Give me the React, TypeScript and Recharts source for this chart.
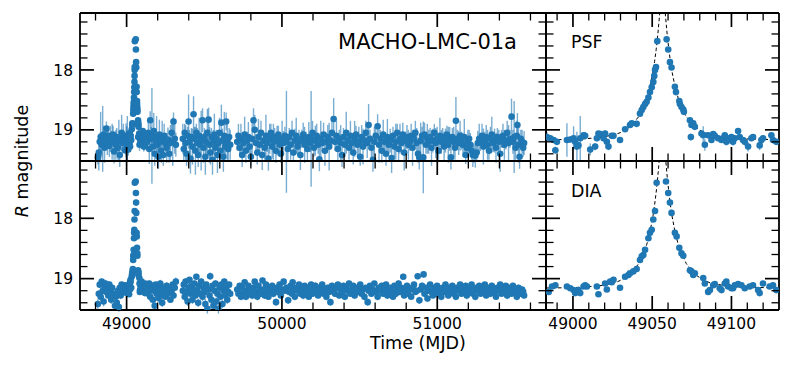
import { ScatterChart, Scatter, XAxis, YAxis, ErrorBar } from 'recharts';

const BLUE = '#1f77b4';
const FONT = '"DejaVu Sans", Verdana, sans-serif';

// tick positions (minor + major mixed; majors get the long tick and the label)
const longTicks = [48800, 49000, 49200, 49400, 49600, 49800, 50000, 50200, 50400, 50600, 50800, 51000, 51200, 51400, 51600];
const zoomTicks = [48990, 49000, 49010, 49020, 49030, 49040, 49050, 49060, 49070, 49080, 49090, 49100, 49110, 49120];
const magTicks = [17.2, 17.4, 17.6, 17.8, 18, 18.2, 18.4, 18.6, 18.8, 19, 19.2, 19.4];

// [MJD, mag, err] outside the event, PSF photometry
const psfBaseline = [
  [48815, 19.46, 0.12], [48821, 19.38, 0.3], [48827, 19.2, 0.15], [48833, 19.12, 0.42], [48840, 19.25, 0.2],
  [48846, 19.15, 0.55], [48852, 19.08, 0.15], [48858, 19.3, 0.25], [48864, 19.18, 0.1], [48870, 18.98, 0.12],
  [48876, 19.22, 0.2], [48882, 19.1, 0.15], [48889, 19.27, 0.18], [48895, 19.15, 0.22], [48901, 19.12, 0.1],
  [48907, 19.2, 0.3], [48913, 19.08, 0.15], [48919, 19.36, 0.2], [48925, 19.18, 0.12], [48931, 19.25, 0.25],
  [48937, 19.12, 0.15], [48944, 19.3, 0.2], [48950, 19.18, 0.35], [48956, 19.42, 0.2], [48962, 19.15, 0.12],
  [48968, 19.05, 0.3], [48974, 19.22, 0.15], [48979, 19.1, 0.2],
  [49134, 19.2, 0.15], [49140, 19.05, 0.2], [49146, 19.32, 0.25], [49152, 18.84, 0.15], [49158, 19.15, 0.2],
  [49163, 19.1, 0.8], [49169, 19.28, 0.15], [49175, 19.02, 0.3], [49181, 19.4, 0.2], [49187, 19.18, 0.15],
  [49193, 19.12, 0.35], [49199, 19.25, 0.12], [49205, 19.45, 0.2], [49211, 19.08, 0.25], [49217, 19.2, 0.15],
  [49223, 19.35, 0.2], [49229, 19.15, 0.3], [49236, 19.42, 0.18], [49242, 19.1, 0.2], [49250, 19.22, 0.15],
  [49258, 19.3, 0.25], [49266, 19.16, 0.2], [49274, 19.4, 0.15], [49282, 19.22, 0.3], [49290, 19.05, 0.2],
  [49297, 19.2, 0.4], [49302, 18.86, 0.15], [49310, 19.15, 0.25], [49317, 19.25, 0.2],
  [49362, 19.15, 0.25], [49368, 19.32, 0.2], [49374, 19.05, 0.15], [49380, 19.22, 0.3], [49386, 19.4, 0.2],
  [49393, 19.1, 0.15], [49399, 18.86, 0.45], [49405, 19.2, 0.2], [49411, 19.48, 0.25], [49417, 19.12, 0.15],
  [49424, 19.28, 0.3], [49431, 18.74, 0.3], [49437, 19.15, 0.2], [49443, 19.35, 0.4], [49449, 19.05, 0.15],
  [49455, 19.22, 0.25], [49461, 19.42, 0.2], [49467, 19.1, 0.3], [49473, 19.25, 0.15], [49480, 19.18, 0.5],
  [49489, 18.84, 0.2], [49495, 19.3, 0.25], [49501, 19.12, 0.15], [49507, 19.45, 0.3], [49513, 19.2, 0.2],
  [49520, 19.05, 0.4], [49528, 18.83, 0.2], [49534, 19.25, 0.3], [49540, 19.38, 0.2], [49546, 19.12, 0.15],
  [49553, 19.5, 0.25], [49559, 19.2, 0.2], [49565, 19.08, 0.35], [49572, 19.3, 0.2], [49578, 19.15, 0.15],
  [49585, 19.42, 0.3], [49591, 19.22, 0.2], [49598, 19.05, 0.25], [49604, 19.35, 0.15], [49610, 18.88, 0.3],
  [49617, 19.18, 0.2], [49623, 19.45, 0.25], [49629, 19.1, 0.4], [49635, 19.28, 0.2], [49641, 18.86, 0.15],
  [49648, 19.2, 0.3], [49654, 19.32, 0.2], [49660, 19.12, 0.15], [49667, 19.25, 0.25],
  [49712, 19.2, 0.15], [49720, 19.1, 0.2], [49728, 19.3, 0.12], [49736, 19.15, 0.25], [49744, 19.42, 0.2],
  [49752, 19.22, 0.15], [49760, 19.08, 0.3], [49768, 19.35, 0.2], [49776, 19.18, 0.15], [49784, 19.12, 0.25],
  [49792, 19.28, 0.2], [49800, 19.45, 0.15], [49808, 19.15, 0.3], [49817, 18.84, 0.2], [49825, 19.0, 0.25],
  [49833, 19.22, 0.15], [49841, 19.38, 0.2], [49849, 19.12, 0.3], [49857, 19.25, 0.15], [49865, 19.05, 0.2],
  [49873, 19.42, 0.25], [49881, 19.18, 0.15], [49889, 19.3, 0.2], [49897, 19.1, 0.35], [49905, 19.22, 0.15],
  [49913, 19.48, 0.2], [49921, 19.15, 0.25], [49929, 19.05, 0.15], [49937, 19.28, 0.2], [49945, 19.2, 0.3],
  [49953, 19.12, 0.15], [49961, 19.35, 0.2], [49969, 19.18, 0.25], [49977, 19.08, 0.15], [49985, 19.25, 0.2],
  [49993, 19.4, 0.15], [50001, 19.15, 0.3], [50010, 19.22, 0.2], [50019, 19.1, 0.15], [50029, 19.2, 0.85],
  [50038, 19.32, 0.2], [50047, 19.12, 0.15], [50056, 19.25, 0.25], [50065, 19.05, 0.2], [50074, 19.38, 0.15],
  [50083, 19.18, 0.2], [50092, 19.1, 0.3], [50101, 19.28, 0.15], [50110, 19.2, 0.2], [50119, 19.42, 0.25],
  [50128, 19.15, 0.15], [50137, 19.08, 0.2], [50146, 19.25, 0.3], [50155, 19.18, 0.15], [50164, 19.32, 0.2],
  [50173, 19.12, 0.25], [50182, 19.22, 0.15], [50188, 19.15, 0.8], [50197, 19.05, 0.2], [50206, 19.3, 0.15],
  [50215, 19.18, 0.25], [50224, 19.1, 0.2], [50233, 19.25, 0.15], [50241, 19.49, 0.2], [50250, 19.15, 0.3],
  [50259, 19.22, 0.15], [50268, 19.08, 0.2], [50277, 19.35, 0.25], [50286, 19.2, 0.15], [50295, 19.12, 0.2],
  [50304, 19.28, 0.4], [50313, 19.18, 0.15], [50322, 19.05, 0.2], [50333, 18.82, 0.35], [50342, 19.2, 0.15],
  [50351, 19.1, 0.25], [50360, 19.32, 0.2], [50369, 19.15, 0.15], [50378, 19.22, 0.3], [50387, 19.42, 0.2],
  [50396, 19.12, 0.15], [50405, 19.25, 0.2], [50414, 19.05, 0.35], [50423, 19.18, 0.15], [50432, 19.3, 0.2],
  [50441, 19.1, 0.25], [50450, 19.22, 0.15], [50459, 19.38, 0.2], [50468, 19.15, 0.3], [50477, 19.08, 0.15],
  [50486, 19.25, 0.2], [50495, 19.2, 0.25], [50504, 19.45, 0.15], [50513, 19.12, 0.2], [50522, 19.28, 0.3],
  [50531, 19.18, 0.15], [50540, 19.05, 0.2], [50549, 19.22, 0.25], [50558, 18.92, 0.35], [50567, 19.15, 0.15],
  [50576, 19.3, 0.2], [50586, 19.5, 0.2], [50595, 19.2, 0.25], [50604, 19.1, 0.15], [50616, 18.94, 0.2],
  [50625, 19.25, 0.3], [50634, 19.15, 0.15], [50643, 19.35, 0.2], [50652, 19.08, 0.25], [50661, 19.2, 0.15],
  [50670, 19.4, 0.2], [50679, 19.12, 0.3], [50688, 19.25, 0.15], [50697, 19.18, 0.2], [50706, 19.47, 0.25],
  [50715, 19.1, 0.15], [50724, 19.28, 0.2], [50733, 19.2, 0.3], [50742, 19.05, 0.15], [50751, 19.32, 0.2],
  [50760, 19.15, 0.25], [50769, 19.22, 0.15], [50778, 19.08, 0.2], [50787, 19.38, 0.3], [50796, 19.18, 0.15],
  [50805, 19.12, 0.2], [50814, 19.25, 0.25], [50823, 19.2, 0.15], [50832, 19.1, 0.2], [50841, 19.3, 0.3],
  [50850, 19.15, 0.15], [50859, 19.05, 0.2], [50868, 19.22, 0.25], [50876, 19.4, 0.15], [50884, 19.46, 0.2],
  [50893, 19.18, 0.3], [50902, 19.1, 0.15], [50910, 19.46, 0.6], [50918, 19.08, 0.2], [50927, 19.25, 0.15],
  [50936, 19.15, 0.25], [50945, 19.2, 0.2], [50954, 19.12, 0.15], [50963, 19.3, 0.3], [50972, 19.18, 0.2],
  [50981, 19.05, 0.15], [50990, 19.22, 0.25], [50999, 19.15, 0.2], [51008, 19.35, 0.15], [51017, 19.1, 0.3],
  [51026, 19.2, 0.2], [51035, 19.12, 0.15], [51044, 19.28, 0.25], [51053, 19.18, 0.2], [51062, 19.08, 0.15],
  [51071, 19.25, 0.3], [51080, 19.15, 0.2], [51088, 19.46, 0.2], [51097, 19.12, 0.15], [51106, 19.2, 0.25],
  [51114, 19.3, 0.2], [51120, 18.85, 0.4], [51129, 19.15, 0.15], [51138, 19.22, 0.2], [51147, 19.1, 0.25],
  [51156, 19.18, 0.15], [51165, 19.25, 0.2], [51174, 19.12, 0.3], [51183, 19.42, 0.15], [51190, 19.3, 0.15],
  [51197, 19.2, 0.2], [51205, 19.15, 0.15], [51213, 19.25, 0.2], [51221, 19.35, 0.15], [51229, 19.42, 0.2],
  [51237, 19.4, 0.15], [51245, 19.43, 0.2], [51253, 19.38, 0.15], [51261, 19.22, 0.2], [51270, 19.15, 0.25],
  [51279, 19.2, 0.15], [51288, 19.1, 0.2], [51297, 19.28, 0.3], [51306, 19.18, 0.15], [51315, 19.12, 0.2],
  [51324, 19.25, 0.25], [51333, 19.35, 0.15], [51342, 19.15, 0.2], [51351, 19.08, 0.3], [51360, 19.22, 0.15],
  [51369, 19.18, 0.2], [51378, 19.3, 0.25], [51387, 19.12, 0.15], [51396, 19.2, 0.2], [51405, 19.4, 0.3],
  [51414, 19.15, 0.15], [51423, 19.1, 0.2], [51432, 19.25, 0.25], [51441, 19.18, 0.15], [51450, 19.05, 0.2],
  [51459, 19.22, 0.3], [51468, 19.15, 0.15], [51478, 18.78, 0.3], [51487, 19.2, 0.2], [51495, 19.12, 0.6],
  [51504, 19.3, 0.2], [51512, 19.1, 0.25], [51516, 18.92, 0.2], [51523, 19.25, 0.3], [51530, 19.45, 0.2],
  [51538, 19.15, 0.15], [51546, 19.2, 0.2], [51553, 19.3, 0.15], [51559, 19.22, 0.2],
];

// [MJD, mag, err] outside the event, DIA photometry
const diaBaseline = [
  [48815, 19.42, 0.08], [48821, 19.25, 0.06], [48827, 19.1, 0.05], [48833, 19.3, 0.07], [48840, 19.05, 0.05],
  [48846, 19.2, 0.06], [48852, 19.38, 0.08], [48858, 19.12, 0.05], [48864, 19.08, 0.06], [48870, 19.22, 0.05],
  [48876, 19.15, 0.07], [48882, 19.28, 0.05], [48889, 19.1, 0.06], [48895, 19.2, 0.05], [48901, 19.35, 0.07],
  [48907, 19.15, 0.05], [48913, 19.25, 0.06], [48925, 19.45, 0.08], [48931, 19.3, 0.06], [48937, 19.4, 0.07],
  [48944, 19.2, 0.05], [48950, 19.47, 0.08], [48956, 19.15, 0.05], [48962, 19.28, 0.06], [48968, 19.1, 0.05],
  [48974, 19.22, 0.06], [48979, 19.15, 0.05],
  [49134, 19.15, 0.05], [49140, 19.25, 0.06], [49146, 19.08, 0.05], [49152, 19.3, 0.07], [49158, 19.18, 0.05],
  [49163, 19.12, 0.06], [49169, 19.35, 0.05], [49175, 19.2, 0.06], [49181, 19.45, 0.07], [49187, 19.1, 0.05],
  [49193, 19.25, 0.06], [49199, 19.15, 0.05], [49205, 19.32, 0.07], [49211, 19.2, 0.05], [49217, 19.08, 0.06],
  [49223, 19.28, 0.05], [49229, 19.4, 0.07], [49236, 19.15, 0.05], [49242, 19.22, 0.06], [49250, 19.3, 0.05],
  [49258, 19.12, 0.06], [49266, 19.25, 0.05], [49274, 19.18, 0.07], [49282, 19.35, 0.05], [49290, 19.2, 0.06],
  [49297, 19.1, 0.05], [49302, 19.28, 0.06], [49310, 19.15, 0.05], [49317, 19.05, 0.07],
  [49362, 19.2, 0.06], [49368, 19.1, 0.05], [49374, 19.3, 0.07], [49380, 19.05, 0.06], [49386, 19.22, 0.05],
  [49393, 19.38, 0.07], [49399, 19.15, 0.06], [49405, 19.02, 0.05], [49411, 19.25, 0.06], [49417, 19.12, 0.05],
  [49424, 19.35, 0.07], [49431, 19.18, 0.06], [49437, 19.08, 0.05], [49443, 19.28, 0.06], [49449, 18.97, 0.05],
  [49455, 19.2, 0.06], [49461, 19.4, 0.07], [49467, 19.12, 0.05], [49473, 19.25, 0.06], [49480, 19.05, 0.05],
  [49489, 19.3, 0.07], [49495, 19.15, 0.06], [49501, 19.22, 0.05], [49507, 19.42, 0.08], [49513, 19.1, 0.05],
  [49520, 19.5, 0.08], [49528, 19.18, 0.06], [49534, 19.28, 0.05], [49538, 18.96, 0.06], [49546, 19.35, 0.07],
  [49553, 19.12, 0.05], [49559, 19.45, 0.08], [49565, 19.2, 0.06], [49572, 19.08, 0.05], [49578, 19.38, 0.07],
  [49585, 19.25, 0.06], [49591, 19.5, 0.08], [49598, 19.15, 0.05], [49604, 19.3, 0.06], [49610, 19.1, 0.05],
  [49617, 19.42, 0.07], [49623, 19.2, 0.06], [49629, 19.05, 0.05], [49635, 19.28, 0.06], [49641, 19.15, 0.05],
  [49648, 19.35, 0.07], [49654, 19.22, 0.06], [49660, 19.1, 0.05], [49667, 19.25, 0.06],
  [49712, 19.18, 0.05], [49720, 19.25, 0.04], [49728, 19.12, 0.05], [49736, 19.3, 0.06], [49744, 19.15, 0.04],
  [49752, 19.22, 0.05], [49760, 19.06, 0.05], [49768, 19.3, 0.06], [49776, 19.2, 0.04], [49784, 19.12, 0.05],
  [49792, 19.25, 0.05], [49800, 19.18, 0.04], [49808, 19.28, 0.06], [49817, 19.15, 0.05], [49825, 19.05, 0.05],
  [49833, 19.22, 0.04], [49841, 19.3, 0.06], [49849, 19.12, 0.05], [49857, 19.2, 0.04], [49865, 19.25, 0.05],
  [49875, 19.03, 0.05], [49881, 19.18, 0.04], [49889, 19.28, 0.06], [49897, 19.1, 0.05], [49905, 19.22, 0.04],
  [49913, 19.3, 0.05], [49921, 19.15, 0.05], [49929, 19.2, 0.04], [49937, 19.12, 0.05], [49945, 19.25, 0.06],
  [49953, 19.18, 0.04], [49962, 19.39, 0.06], [49969, 19.15, 0.05], [49977, 19.22, 0.04], [49985, 19.1, 0.05],
  [49993, 19.28, 0.05], [50001, 19.18, 0.04], [50011, 19.05, 0.05], [50019, 19.2, 0.04], [50029, 19.15, 0.05],
  [50040, 19.36, 0.06], [50047, 19.22, 0.04], [50056, 19.12, 0.05], [50065, 19.25, 0.05], [50069, 19.06, 0.04],
  [50074, 19.18, 0.05], [50083, 19.3, 0.06], [50092, 19.15, 0.04], [50101, 19.2, 0.05], [50110, 19.1, 0.05],
  [50119, 19.25, 0.04], [50128, 19.18, 0.05], [50137, 19.28, 0.06], [50146, 19.12, 0.04], [50155, 19.22, 0.05],
  [50164, 19.15, 0.05], [50173, 19.3, 0.04], [50182, 19.2, 0.05], [50188, 19.1, 0.05], [50197, 19.25, 0.04],
  [50206, 19.18, 0.05], [50215, 19.12, 0.06], [50224, 19.22, 0.04], [50233, 19.28, 0.05], [50241, 19.15, 0.05],
  [50250, 19.2, 0.04], [50259, 19.1, 0.05], [50268, 19.25, 0.05], [50277, 19.18, 0.04], [50286, 19.3, 0.06],
  [50295, 19.15, 0.05], [50304, 19.22, 0.04], [50312, 19.39, 0.06], [50322, 19.12, 0.05], [50333, 19.2, 0.04],
  [50342, 19.25, 0.05], [50351, 19.15, 0.05], [50360, 19.1, 0.04], [50369, 19.28, 0.05], [50378, 19.18, 0.05],
  [50387, 19.22, 0.04], [50396, 19.12, 0.05], [50405, 19.3, 0.06], [50414, 19.15, 0.04], [50423, 19.2, 0.05],
  [50432, 19.08, 0.05], [50441, 19.25, 0.04], [50450, 19.18, 0.05], [50459, 19.12, 0.05], [50468, 19.28, 0.06],
  [50477, 19.2, 0.04], [50486, 19.15, 0.05], [50495, 19.22, 0.05], [50504, 19.1, 0.04], [50513, 19.25, 0.05],
  [50522, 19.18, 0.05], [50531, 19.3, 0.06], [50540, 19.15, 0.04], [50552, 19.39, 0.06], [50558, 19.2, 0.05],
  [50567, 19.12, 0.04], [50576, 19.25, 0.05], [50586, 19.18, 0.05], [50595, 19.08, 0.04], [50604, 19.22, 0.05],
  [50616, 19.3, 0.06], [50625, 19.15, 0.04], [50634, 19.2, 0.05], [50643, 19.12, 0.05], [50652, 19.25, 0.04],
  [50661, 19.18, 0.05], [50670, 19.1, 0.05], [50679, 19.28, 0.06], [50688, 19.2, 0.04], [50697, 19.15, 0.05],
  [50706, 19.22, 0.05], [50715, 19.3, 0.04], [50724, 19.12, 0.05], [50733, 19.25, 0.05], [50742, 19.18, 0.04],
  [50751, 19.08, 0.05], [50760, 19.22, 0.05], [50769, 19.15, 0.04], [50781, 18.97, 0.05], [50787, 19.28, 0.05],
  [50796, 19.2, 0.04], [50805, 19.12, 0.05], [50814, 19.25, 0.06], [50823, 19.18, 0.04], [50832, 19.3, 0.05],
  [50841, 19.15, 0.05], [50850, 19.1, 0.04], [50859, 19.22, 0.05], [50868, 19.2, 0.05], [50874, 18.96, 0.05],
  [50885, 19.36, 0.06], [50893, 19.18, 0.04], [50902, 19.12, 0.05], [50912, 18.93, 0.05], [50918, 19.25, 0.04],
  [50927, 19.15, 0.05], [50937, 19.33, 0.06], [50945, 19.2, 0.04], [50954, 19.1, 0.05], [50963, 19.22, 0.05],
  [50972, 19.28, 0.04], [50981, 19.15, 0.05], [50990, 19.2, 0.05], [50999, 19.12, 0.04], [51008, 19.25, 0.05],
  [51017, 19.18, 0.05], [51026, 19.3, 0.06], [51035, 19.15, 0.04], [51044, 19.22, 0.05], [51053, 19.1, 0.05],
  [51062, 19.2, 0.04], [51071, 19.28, 0.05], [51080, 19.15, 0.05], [51088, 19.22, 0.04], [51097, 19.12, 0.05],
  [51106, 19.25, 0.05], [51114, 19.18, 0.04], [51120, 19.3, 0.06], [51129, 19.15, 0.05], [51138, 19.2, 0.04],
  [51147, 19.1, 0.05], [51156, 19.25, 0.05], [51165, 19.18, 0.04], [51174, 19.22, 0.05], [51183, 19.12, 0.05],
  [51190, 19.28, 0.06], [51197, 19.2, 0.04], [51205, 19.15, 0.05], [51213, 19.22, 0.05], [51221, 19.1, 0.04],
  [51229, 19.25, 0.05], [51237, 19.18, 0.05], [51245, 19.3, 0.06], [51253, 19.15, 0.04], [51261, 19.2, 0.05],
  [51270, 19.12, 0.05], [51279, 19.25, 0.04], [51288, 19.18, 0.05], [51297, 19.22, 0.05], [51306, 19.1, 0.04],
  [51315, 19.28, 0.05], [51324, 19.15, 0.05], [51333, 19.2, 0.04], [51342, 19.25, 0.06], [51351, 19.12, 0.05],
  [51360, 19.18, 0.04], [51369, 19.22, 0.05], [51378, 19.3, 0.05], [51387, 19.15, 0.04], [51396, 19.2, 0.05],
  [51405, 19.1, 0.05], [51414, 19.25, 0.04], [51423, 19.18, 0.05], [51432, 19.22, 0.05], [51441, 19.12, 0.04],
  [51450, 19.28, 0.06], [51459, 19.15, 0.05], [51468, 19.2, 0.04], [51478, 19.25, 0.05], [51487, 19.12, 0.05],
  [51495, 19.18, 0.04], [51504, 19.22, 0.05], [51512, 19.3, 0.06], [51523, 19.15, 0.05], [51530, 19.2, 0.04],
  [51538, 19.25, 0.05], [51546, 19.18, 0.05], [51553, 19.22, 0.04], [51559, 19.28, 0.05],
];

// [MJD, mag, err] around the peak
const psfPeak = [
  [48983.6, 19.12, 0.08], [48985.7, 19.14, 0.05], [48987.8, 19.17, 0.04], [48988.9, 19.34, 0.06], [48989.9, 19.2, 0.05],
  [48996.2, 19.17, 0.28], [48998.3, 19.16, 0.05], [49000.4, 19.14, 0.2], [49001.4, 19.2, 0.1], [49002.5, 19.28, 0.25],
  [49003.5, 19.26, 0.06], [49004.6, 19.14, 0.37], [49006.7, 19.09, 0.05], [49007.7, 19.1, 0.06], [49010.9, 19.33, 0.1],
  [49014.0, 19.28, 0.06], [49015.1, 19.14, 0.05], [49016.1, 19.06, 0.04], [49017.2, 19.07, 0.05], [49019.3, 19.14, 0.06],
  [49020.3, 19.06, 0.05], [49021.4, 19.2, 0.05], [49022.4, 19.28, 0.06], [49024.5, 19.1, 0.04], [49025.6, 19.1, 0.05],
  [49029.7, 19.17, 0.05], [49032.9, 18.99, 0.04], [49036.0, 18.92, 0.05], [49037.1, 18.89, 0.04], [49040.2, 18.9, 0.04],
  [49042.3, 18.73, 0.04], [49043.4, 18.67, 0.04], [49044.4, 18.62, 0.03], [49045.5, 18.57, 0.03], [49046.5, 18.53, 0.03],
  [49047.6, 18.46, 0.03], [49048.6, 18.37, 0.03], [49049.7, 18.29, 0.03], [49050.7, 18.2, 0.03], [49051.3, 18.1, 0.03],
  [49051.8, 18.0, 0.03], [49052.4, 17.95, 0.03], [49053.2, 17.52, 0.03], [49059.1, 17.49, 0.03], [49060.1, 17.66, 0.03],
  [49061.2, 17.87, 0.03], [49062.2, 17.96, 0.03], [49064.3, 18.28, 0.03], [49065.0, 18.37, 0.03], [49067.1, 18.52, 0.03],
  [49067.5, 18.57, 0.03], [49068.5, 18.62, 0.03], [49069.6, 18.66, 0.03], [49070.0, 18.7, 0.04], [49073.8, 18.84, 0.04],
  [49074.4, 19.12, 0.06], [49074.8, 18.92, 0.04], [49075.9, 18.89, 0.04], [49076.9, 18.95, 0.05], [49081.1, 19.06, 0.05],
  [49082.2, 19.09, 0.15], [49083.2, 19.25, 0.1], [49085.3, 19.09, 0.05], [49087.4, 19.17, 0.05], [49088.5, 19.07, 0.05],
  [49089.5, 19.1, 0.05], [49091.6, 19.14, 0.05], [49093.7, 19.17, 0.04], [49094.8, 19.14, 0.05], [49095.8, 19.09, 0.05],
  [49096.8, 19.2, 0.06], [49097.9, 19.14, 0.05], [49098.9, 19.17, 0.05], [49100.0, 19.12, 0.05], [49101.0, 19.2, 0.06],
  [49102.1, 19.14, 0.05], [49104.2, 19.02, 0.05], [49105.2, 19.12, 0.05], [49107.3, 19.17, 0.05], [49108.4, 19.2, 0.06],
  [49110.5, 19.28, 0.08], [49112.6, 19.14, 0.05], [49113.6, 19.12, 0.05], [49117.8, 19.26, 0.08], [49118.9, 19.17, 0.05],
  [49119.9, 19.14, 0.05], [49125.2, 19.09, 0.05], [49126.2, 19.17, 0.06], [49128.3, 19.2, 0.05],
];

const diaPeak = [
  [48984.7, 19.22, 0.03], [48986.8, 19.13, 0.03], [48988.9, 19.11, 0.03], [48996.2, 19.13, 0.03], [48998.3, 19.16, 0.03],
  [49000.4, 19.19, 0.04], [49001.4, 19.24, 0.03], [49002.5, 19.22, 0.03], [49003.5, 19.19, 0.03], [49004.6, 19.24, 0.03],
  [49006.7, 19.13, 0.03], [49007.7, 19.11, 0.03], [49008.8, 19.13, 0.03], [49015.1, 19.13, 0.03], [49016.1, 19.26, 0.03],
  [49020.3, 19.08, 0.03], [49021.4, 19.18, 0.03], [49023.5, 19.05, 0.03], [49024.5, 19.06, 0.03], [49025.6, 19.02, 0.03],
  [49029.7, 19.15, 0.03], [49032.9, 18.97, 0.03], [49035.0, 18.94, 0.03], [49036.0, 18.91, 0.03], [49038.1, 18.88, 0.03],
  [49040.2, 18.84, 0.03], [49042.3, 18.69, 0.02], [49043.4, 18.63, 0.02], [49044.4, 18.61, 0.02], [49045.5, 18.52, 0.02],
  [49047.6, 18.33, 0.02], [49048.6, 18.24, 0.02], [49049.7, 18.19, 0.02], [49050.7, 18.02, 0.02], [49051.8, 17.88, 0.02],
  [49052.8, 17.41, 0.02], [49058.7, 17.39, 0.02], [49060.1, 17.58, 0.02], [49061.2, 17.74, 0.02], [49062.2, 17.91, 0.02],
  [49064.3, 18.24, 0.02], [49065.4, 18.3, 0.02], [49067.1, 18.49, 0.02], [49068.5, 18.58, 0.02], [49069.6, 18.62, 0.02],
  [49073.8, 18.86, 0.03], [49074.8, 18.88, 0.03], [49075.9, 18.94, 0.03], [49076.9, 18.91, 0.03], [49082.2, 18.99, 0.03],
  [49083.2, 19.08, 0.03], [49085.3, 19.22, 0.03], [49086.4, 19.19, 0.03], [49088.5, 19.11, 0.03], [49089.5, 19.09, 0.03],
  [49092.6, 19.16, 0.03], [49093.7, 19.19, 0.03], [49095.8, 19.08, 0.03], [49096.8, 19.05, 0.03], [49097.9, 19.13, 0.03],
  [49100.0, 19.16, 0.03], [49101.0, 19.16, 0.03], [49102.1, 19.11, 0.03], [49104.2, 19.09, 0.03], [49106.3, 19.11, 0.03],
  [49108.4, 19.16, 0.03], [49111.5, 19.13, 0.03], [49113.6, 19.11, 0.03], [49116.8, 19.19, 0.03], [49117.8, 19.24, 0.03],
  [49119.9, 19.08, 0.03], [49124.1, 19.13, 0.03], [49126.2, 19.11, 0.03], [49128.3, 19.19, 0.03],
];

// dashed model curves [MJD, mag]
const psfModel = [
  [48983, 19.165], [49000, 19.16], [49006.5, 19.15], [49016.5, 19.13], [49026.5, 19.08], [49031.5, 19.03],
  [49036.5, 18.94], [49041.5, 18.78], [49044.5, 18.62], [49046.5, 18.48], [49048.5, 18.29], [49050.5, 18.03],
  [49051.5, 17.86], [49052.5, 17.66], [49053.5, 17.42], [49054.5, 17.13], [49055.5, 16.83], [49056.5, 16.67],
  [49057.5, 16.83], [49058.5, 17.13], [49059.5, 17.42], [49060.5, 17.66], [49061.5, 17.86], [49062.5, 18.03],
  [49064.5, 18.29], [49066.5, 18.48], [49068.5, 18.62], [49071.5, 18.78], [49076.5, 18.94], [49081.5, 19.03],
  [49086.5, 19.08], [49096.5, 19.13], [49106.5, 19.15], [49130, 19.165],
];

const diaModel = [
  [48983, 19.155], [49000, 19.15], [49006.5, 19.14], [49016.5, 19.12], [49026.5, 19.07], [49031.5, 19.01],
  [49036.5, 18.92], [49041.5, 18.75], [49044.5, 18.58], [49046.5, 18.44], [49048.5, 18.24], [49050.5, 17.96],
  [49051.5, 17.78], [49052.5, 17.57], [49053.5, 17.32], [49054.5, 17.02], [49055.5, 16.7], [49056.5, 16.53],
  [49057.5, 16.7], [49058.5, 17.02], [49059.5, 17.32], [49060.5, 17.57], [49061.5, 17.78], [49062.5, 17.96],
  [49064.5, 18.24], [49066.5, 18.44], [49068.5, 18.58], [49071.5, 18.75], [49076.5, 18.92], [49081.5, 19.01],
  [49086.5, 19.07], [49096.5, 19.12], [49106.5, 19.14], [49130, 19.155],
];

const MAG_DOMAIN: [number, number] = [17.05, 19.52];
const LONG_DOMAIN: [number, number] = [48700, 51700];
const ZOOM_DOMAIN: [number, number] = [48983, 49130];

const toPoints = (rows: number[][]) => rows.map(([t, m, e]) => ({ t, m, e }));

const isMajor = (v: number, step: number) => Math.abs(v / step - Math.round(v / step)) < 1e-6;

// matplotlib-style "in" ticks drawn from the axis line into the plot
const makeTick = (side: string, step: number, showLabel: boolean) => (props: any) => {
  const { x, y, payload } = props;
  const v = payload.value;
  const major = isMajor(v, step);
  const len = major ? 14 : 7.5;
  let x2 = x;
  let y2 = y;
  if (side === 'bottom') y2 = y - len;
  if (side === 'top') y2 = y + len;
  if (side === 'left') x2 = x + len;
  if (side === 'right') x2 = x - len;
  let label = null;
  if (showLabel && major) {
    label = side === 'bottom'
      ? <text x={x} y={y + 18.5} textAnchor="middle" fontSize={15.5} fontFamily={FONT} fill="#000">{v}</text>
      : <text x={x - 7} y={y + 5.6} textAnchor="end" fontSize={15.5} fontFamily={FONT} fill="#000">{v}</text>;
  }
  return (
    <g>
      <line x1={x} y1={y} x2={x2} y2={y2} stroke="#000" strokeWidth={major ? 1.7 : 1.3} />
      {label}
    </g>
  );
};

const axisLine = { stroke: '#000', strokeWidth: 1.8 };

interface PanelProps {
  left: number;
  top: number;
  width: number;
  height: number;
  points: number[][];
  model?: number[][];
  xDomain: [number, number];
  xTicks: number[];
  xStep: number;
  xLabels: boolean;
  yLabels: boolean;
}

// each panel: plot area is exactly width x height at (left, top); the axes take a 1px band outside it
const Panel = ({ left, top, width, height, points, model, xDomain, xTicks, xStep, xLabels, yLabels }: PanelProps) => {
  const pts = toPoints(points);
  const curve = model ? model.map(([t, m]) => ({ t, m })) : null;
  return (
    <div style={{ position: 'absolute', left: left - 1, top: top - 1 }}>
      <ScatterChart width={width + 2} height={height + 2} margin={{ top: 0, right: 0, bottom: 0, left: 0 }}>
        <XAxis xAxisId="b" type="number" dataKey="t" domain={xDomain} allowDataOverflow ticks={xTicks}
          interval={0} height={1} tickSize={0} tickMargin={0} axisLine={axisLine} tickLine={false}
          tick={makeTick('bottom', xStep, xLabels)} />
        <XAxis xAxisId="t" orientation="top" type="number" dataKey="t" domain={xDomain} allowDataOverflow ticks={xTicks}
          interval={0} height={1} tickSize={0} tickMargin={0} axisLine={axisLine} tickLine={false}
          tick={makeTick('top', xStep, false)} />
        <YAxis yAxisId="l" type="number" dataKey="m" domain={MAG_DOMAIN} reversed allowDataOverflow ticks={magTicks}
          interval={0} width={1} tickSize={0} tickMargin={0} axisLine={axisLine} tickLine={false}
          tick={makeTick('left', 1, yLabels)} />
        <YAxis yAxisId="r" orientation="right" type="number" dataKey="m" domain={MAG_DOMAIN} reversed allowDataOverflow
          ticks={magTicks} interval={0} width={1} tickSize={0} tickMargin={0} axisLine={axisLine} tickLine={false}
          tick={makeTick('right', 1, false)} />
        {curve && (
          <Scatter xAxisId="b" yAxisId="l" data={curve} isAnimationActive={false}
            line={{ stroke: '#000', strokeWidth: 1, strokeDasharray: '3.5 2.5' }}
            shape={() => <g />} />
        )}
        <Scatter xAxisId="b" yAxisId="l" data={pts} isAnimationActive={false}
          shape={(p: any) => <circle cx={p.cx} cy={p.cy} r={3.3} fill={BLUE} />}>
          <ErrorBar dataKey="e" direction="y" width={0} stroke={BLUE} strokeOpacity={0.6} strokeWidth={1.4} />
        </Scatter>
      </ScatterChart>
    </div>
  );
};

export default function App() {
  return (
    <div style={{ position: 'absolute', left: 0, top: 0, width: 793, height: 366, background: '#fff', fontFamily: FONT }}>
      <style>{'.recharts-surface{overflow:visible}'}</style>
      <Panel left={80} top={13} width={466} height={148} points={[...psfBaseline, ...psfPeak]}
        xDomain={LONG_DOMAIN} xTicks={longTicks} xStep={1000} xLabels={false} yLabels />
      <Panel left={546} top={13} width={233} height={148} points={psfPeak} model={psfModel}
        xDomain={ZOOM_DOMAIN} xTicks={zoomTicks} xStep={50} xLabels={false} yLabels={false} />
      <Panel left={80} top={161} width={466} height={149} points={[...diaBaseline, ...diaPeak]}
        xDomain={LONG_DOMAIN} xTicks={longTicks} xStep={1000} xLabels yLabels />
      <Panel left={546} top={161} width={233} height={149} points={diaPeak} model={diaModel}
        xDomain={ZOOM_DOMAIN} xTicks={zoomTicks} xStep={50} xLabels yLabels={false} />
      <svg width={793} height={366} style={{ position: 'absolute', left: 0, top: 0, pointerEvents: 'none' }}>
        <text x={517} y={48.5} textAnchor="end" fontSize={21} fontFamily={FONT}>MACHO-LMC-01a</text>
        <text x={571} y={47.7} fontSize={17.4} fontFamily={FONT}>PSF</text>
        <text x={571} y={197.3} fontSize={17.4} fontFamily={FONT}>DIA</text>
        <text x={418} y={348.5} textAnchor="middle" fontSize={17.5} fontFamily={FONT}>Time (MJD)</text>
        <text x={28} y={161} textAnchor="middle" fontSize={17.5} fontFamily={FONT} transform="rotate(-90 28 161)">
          <tspan fontStyle="italic">R</tspan> magnitude
        </text>
      </svg>
    </div>
  );
}
